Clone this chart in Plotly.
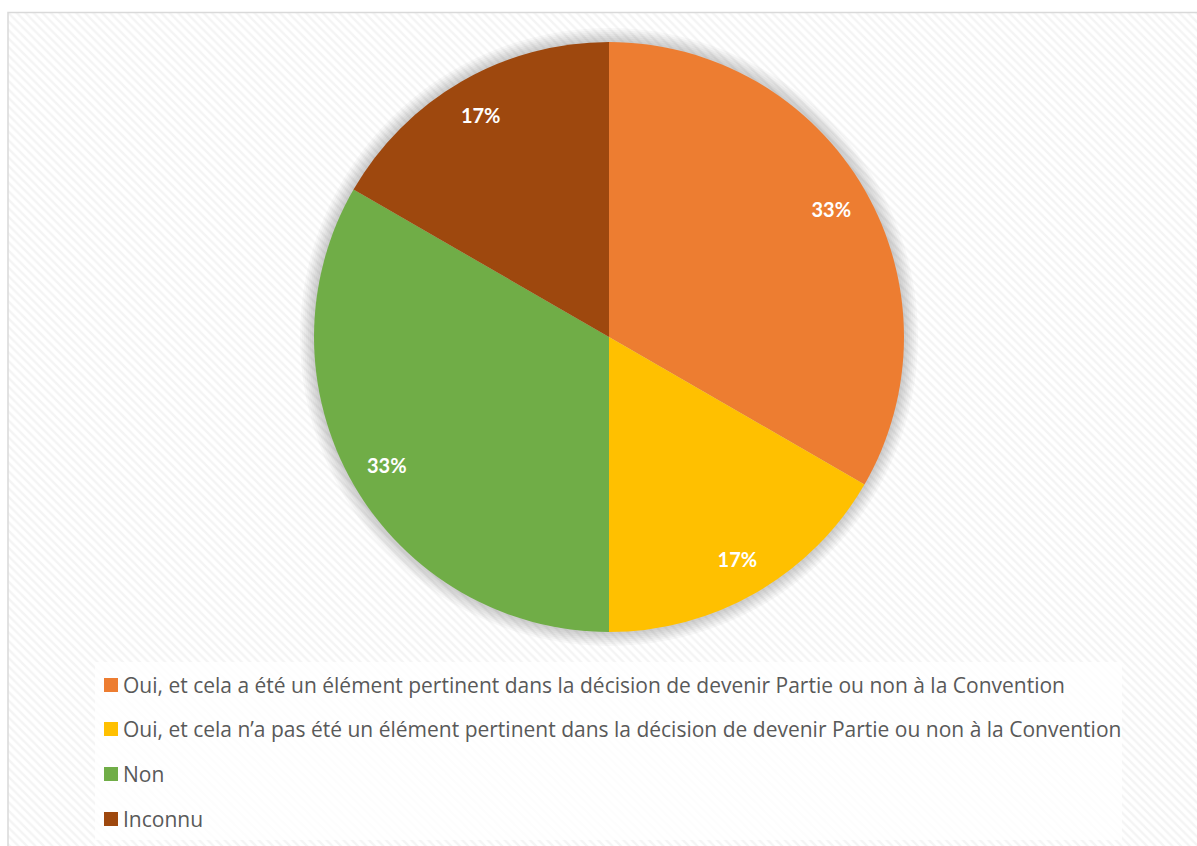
import plotly.graph_objects as go

# Survey answers and their counts
categories = [
    "Oui, et cela a été un élément pertinent dans la décision de devenir Partie ou non à la Convention",
    "Oui, et cela n’a pas été un élément pertinent dans la décision de devenir Partie ou non à la Convention",
    "Non",
    "Inconnu",
]
values = [2, 1, 2, 1]
colors = ["#ED7D31", "#FFC000", "#70AD47", "#9E480E"]

W, H = 1197, 846
cx, cy, r = 609, 337, 295          # pie centre and radius in pixels
LEGEND_FONT = "Open Sans"
LABEL_FONT = "Lato"


def fx(x):
    return x / W


def fy(y):
    return 1 - y / H


def disc_domain(rad):
    return dict(x=[fx(cx - rad), fx(cx + rad)], y=[fy(cy + rad), fy(cy - rad)])


fig = go.Figure()

# hatched chart-area background
fig.add_trace(go.Bar(
    x=[0], y=[1], width=[1],
    marker=dict(color="#ffffff", line=dict(width=0),
                pattern=dict(shape="\\", fgcolor="#e9e9e9", bgcolor="#ffffff",
                             size=6, solidity=0.4)),
    hoverinfo="skip", showlegend=False,
))

# soft shadow around the pie
for rad in range(r + 14, r, -2):
    fig.add_trace(go.Pie(
        values=[1], labels=["shadow"], domain=disc_domain(rad),
        marker=dict(colors=["rgba(0,0,0,0.028)"], line=dict(width=0)),
        textinfo="none", hoverinfo="skip", showlegend=False, sort=False,
    ))

# main pie
fig.add_trace(go.Pie(
    labels=categories, values=values, domain=disc_domain(r),
    sort=False, direction="clockwise", rotation=0,
    marker=dict(colors=colors, line=dict(width=0)),
    textinfo="none", hoverinfo="label+percent", showlegend=False,
))

# percentage labels, set in the outer ring of the same slices
fig.add_trace(go.Pie(
    labels=categories, values=values, domain=disc_domain(r), hole=0.74,
    sort=False, direction="clockwise", rotation=0,
    marker=dict(colors=["rgba(0,0,0,0)"] * len(values), line=dict(width=0)),
    texttemplate="%{percent:.0%}", textposition="inside",
    insidetextorientation="horizontal",
    textfont=dict(family=LABEL_FONT, size=20, color="#ffffff", weight="bold"),
    hoverinfo="skip", showlegend=False,
))

shapes = [
    # chart area border
    dict(type="rect", xref="paper", yref="paper",
         x0=fx(8), x1=fx(W + 5), y0=fy(H + 5), y1=fy(12.5),
         line=dict(color="#d9d9d9", width=1.5), fillcolor="rgba(0,0,0,0)", layer="above"),
    # legend panel
    dict(type="rect", xref="paper", yref="paper",
         x0=fx(95), x1=fx(1122), y0=fy(840), y1=fy(662),
         line=dict(width=0), fillcolor="rgba(255,255,255,0.8)", layer="above"),
]

annotations = []
row_y = [685, 729, 774, 819]
for cat, col, yy in zip(categories, colors, row_y):
    shapes.append(dict(type="rect", xref="paper", yref="paper",
                       x0=fx(104), x1=fx(118), y0=fy(yy + 7), y1=fy(yy - 7),
                       line=dict(width=0), fillcolor=col, layer="above"))
    annotations.append(dict(text=cat, xref="paper", yref="paper",
                            x=fx(121), y=fy(yy), xanchor="left", yanchor="middle",
                            showarrow=False,
                            font=dict(family=LEGEND_FONT, size=21, color="#595959")))

fig.update_layout(
    width=W, height=H,
    margin=dict(l=0, r=0, t=0, b=0),
    paper_bgcolor="#ffffff", plot_bgcolor="rgba(0,0,0,0)",
    xaxis=dict(domain=[fx(8), 1], range=[-0.5, 0.5], visible=False, fixedrange=True),
    yaxis=dict(domain=[0, fy(12.5)], range=[0, 1], visible=False, fixedrange=True),
    shapes=shapes, annotations=annotations,
    showlegend=False,
)

fig.write_html("out.html")
